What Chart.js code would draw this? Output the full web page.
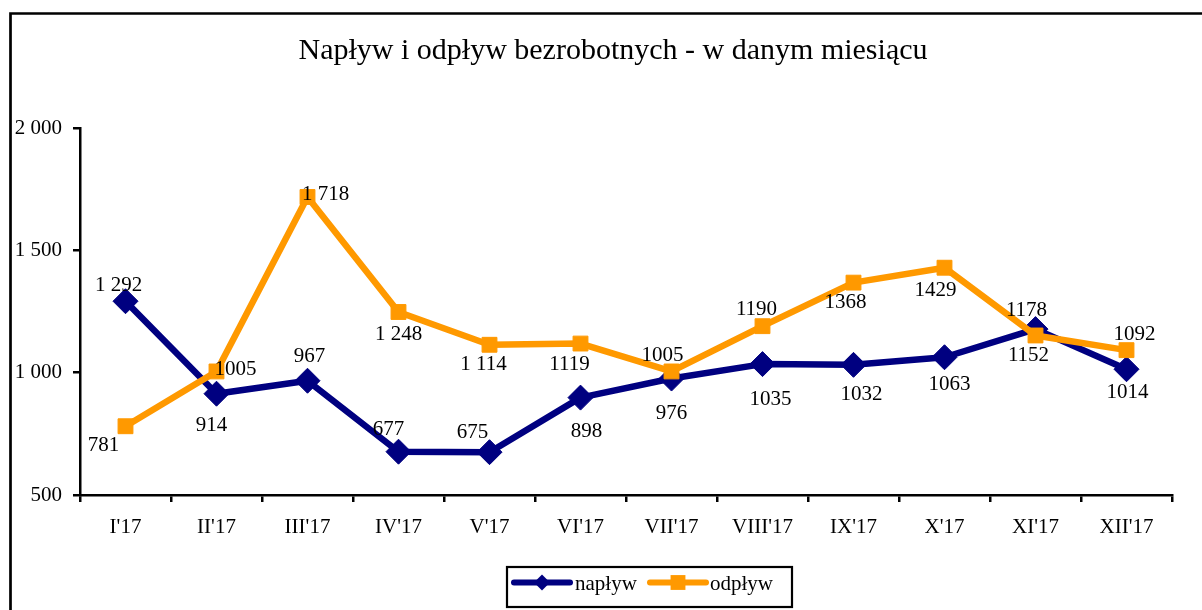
<!DOCTYPE html>
<html><head><meta charset="utf-8">
<script src="https://cdn.jsdelivr.net/npm/chart.js@4/dist/chart.umd.min.js"></script>
<style>html,body{margin:0;padding:0;background:#fff;} canvas{display:block;}</style>
</head><body>
<canvas id="c" width="1202" height="610"></canvas>
<script>
const categories = ["I'17","II'17","III'17","IV'17","V'17","VI'17","VII'17","VIII'17","IX'17","X'17","XI'17","XII'17"];
const naplyw = [1292, 914, 967, 677, 675, 898, 976, 1035, 1032, 1063, 1178, 1014];
const odplyw = [781, 1005, 1718, 1248, 1114, 1119, 1005, 1190, 1368, 1429, 1152, 1092];
const naplywSpaced = [true, false, false, false, false, false, false, false, false, false, false, false];
const odplywSpaced = [false, false, true, true, true, false, false, false, false, false, false, false];
const yTicks = [500, 1000, 1500, 2000];
const title = "Napływ i odpływ bezrobotnych - w danym miesiącu";

const FONT = "'Liberation Serif', 'Times New Roman', serif";
const NAVY = '#000080', ORANGE = '#FF9900';

function fmt(v, spaced) {
  const s = String(v);
  if (!spaced) return s;
  return s.replace(/\B(?=(\d{3})+(?!\d))/g, ' ');
}

// label offsets relative to each point (style only)
const labelOffsets = [
  [[-7,-16],[-5,32],[2,-24],[-10,-22],[-17,-20],[6,34],[0,35],[8,35],[8,30],[5,27],[-9,-19],[1,23]],
  [[-22,19],[19,-2],[18,-3],[0,22],[-6,20],[-11,21],[-9,-16],[-6,-17],[-8,20],[-9,23],[-7,20],[8,-16]]
];
const labelSpaced = [naplywSpaced, odplywSpaced];

const decor = {
  id: 'decor',
  beforeDraw(chart) {
    const ctx = chart.ctx;
    ctx.save();
    ctx.fillStyle = '#fff';
    ctx.fillRect(0, 0, chart.width, chart.height);
    ctx.strokeStyle = '#000';
    ctx.lineWidth = 2.7;
    ctx.beginPath();
    ctx.moveTo(10.5, chart.height + 5);
    ctx.lineTo(10.5, 13.5);
    ctx.lineTo(chart.width + 5, 13.5);
    ctx.stroke();
    ctx.fillStyle = '#000';
    ctx.font = '30px ' + FONT;
    ctx.textAlign = 'center';
    ctx.textBaseline = 'middle';
    ctx.fillText(title, 613, 51);
    ctx.restore();
  },
  afterDatasetsDraw(chart) {
    const ctx = chart.ctx;
    ctx.save();
    ctx.fillStyle = '#000';
    ctx.font = '21px ' + FONT;
    ctx.textAlign = 'center';
    ctx.textBaseline = 'middle';
    chart.data.datasets.forEach((ds, di) => {
      const meta = chart.getDatasetMeta(di);
      meta.data.forEach((pt, i) => {
        const off = labelOffsets[di][i];
        ctx.fillText(fmt(ds.data[i], labelSpaced[di][i]), pt.x + off[0], pt.y + off[1]);
      });
    });
    // legend
    const lx = 507, ly = 567, lw = 285, lh = 40;
    ctx.strokeStyle = '#000';
    ctx.lineWidth = 2.2;
    ctx.strokeRect(lx, ly, lw, lh);
    const cy = 582.5;
    const items = [
      {ds: chart.data.datasets[0], x0: 514, x1: 570, tx: 575},
      {ds: chart.data.datasets[1], x0: 650, x1: 706, tx: 710}
    ];
    items.forEach(it => {
      ctx.strokeStyle = it.ds.borderColor;
      ctx.lineWidth = 6;
      ctx.lineCap = 'round';
      ctx.beginPath();
      ctx.moveTo(it.x0, cy);
      ctx.lineTo(it.x1, cy);
      ctx.stroke();
      const mx = (it.x0 + it.x1) / 2;
      ctx.fillStyle = it.ds.borderColor;
      Chart.helpers.drawPoint(ctx, {pointStyle: it.ds.pointStyle, radius: it.ds.pointStyle === 'rect' ? 10.5 : 8, borderWidth: 0}, mx, cy);
      ctx.fillStyle = '#000';
      ctx.textAlign = 'left';
      ctx.fillText(it.ds.label, it.tx, cy + 2);
    });
    ctx.restore();
  }
};

new Chart(document.getElementById('c'), {
  type: 'line',
  data: {
    labels: categories,
    datasets: [
      {label: 'napływ', data: naplyw, borderColor: NAVY, backgroundColor: NAVY,
       pointBackgroundColor: NAVY, pointBorderColor: NAVY, pointBorderWidth: 1,
       borderWidth: 6.5, pointStyle: 'rectRot', pointRadius: 12.5, tension: 0,
       borderJoinStyle: 'round', order: 1},
      {label: 'odpływ', data: odplyw, borderColor: ORANGE, backgroundColor: ORANGE,
       pointBackgroundColor: ORANGE, pointBorderColor: ORANGE, pointBorderWidth: 1,
       borderWidth: 6.5, pointStyle: 'rect', pointRadius: 10.5, tension: 0,
       borderJoinStyle: 'round', order: 0}
    ]
  },
  options: {
    responsive: false,
    animation: false,
    events: [],
    layout: {padding: {top: 128, left: 0, right: 30, bottom: 0}},
    plugins: {legend: {display: false}, title: {display: false}, tooltip: {enabled: false}},
    scales: {
      x: {
        type: 'category', offset: true,
        grid: {offset: true, drawOnChartArea: false, tickLength: 7, lineWidth: 2.5, color: '#000'},
        border: {color: '#000', width: 2.5},
        ticks: {color: '#000', font: {family: FONT, size: 21}, padding: 13, maxRotation: 0, autoSkip: false},
        afterFit(s) { s.height = 115; }
      },
      y: {
        min: 500, max: 2000,
        afterBuildTicks(s) { s.ticks = yTicks.map(v => ({value: v})); },
        grid: {drawOnChartArea: false, tickLength: 7, lineWidth: 2.5, color: '#000'},
        border: {color: '#000', width: 2.5},
        ticks: {color: '#000', font: {family: FONT, size: 21}, padding: 11, callback: v => fmt(v, true)},
        afterFit(s) { s.width = 80; }
      }
    }
  },
  plugins: [decor]
});
</script>
</body></html>
